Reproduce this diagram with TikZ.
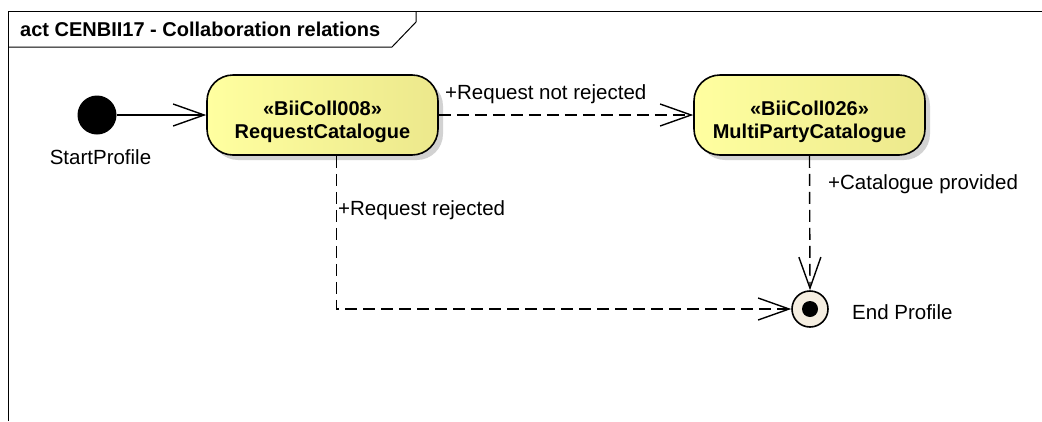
\documentclass[tikz,border=0pt]{standalone}
\usepackage{fontspec}
\setmainfont{Liberation Sans}
\usetikzlibrary{arrows.meta,shadows,calc}

\definecolor{boxL}{RGB}{255,255,160}
\definecolor{boxR}{RGB}{236,232,140}
\definecolor{endfill}{RGB}{245,238,225}

\begin{document}
\begin{tikzpicture}[x=1pt,y=-1pt,
  lbl/.style={inner sep=0pt, anchor=base west, font=\fontsize{20.5}{24}\selectfont},
  action/.style={draw=black, line width=1.6pt, rounded corners=26pt,
    minimum width=231pt, minimum height=80pt, left color=boxL, right color=boxR,
    drop shadow={shadow xshift=5pt, shadow yshift=-5pt, fill=black!35}, inner sep=0pt},
  boxtext/.style={align=center, font=\bfseries\fontsize{20}{23.5}\selectfont, inner sep=0pt},
  flow/.style={line width=1.4pt, -{Straight Barb[length=31pt,width=22pt,line width=1.4pt]}},
  dflow/.style={flow, dash pattern=on 12pt off 6pt},
  frameline/.style={line width=1pt},
]
\useasboundingbox (0,0) rectangle (1042,421);

% frame
\draw[frameline] (8,421) -- (8,11) -- (1042,11);
\draw[frameline] (8,47) -- (392,47) -- (416,22) -- (416,11);
\node[anchor=base west, inner sep=0pt, font=\bfseries\fontsize{20}{24}\selectfont] (hdr) at (20,36) {act CENBII17 - Collaboration relations};

% start
\node[circle, fill=black, minimum size=39pt, inner sep=0pt] (start) at (97,115) {};
\node[inner sep=0pt, anchor=base, font=\fontsize{20.5}{24}\selectfont] (startL) at (100.5,164) {StartProfile};

% actions
\node[action] (rc) at (322.5,115) {};
\node[boxtext] (rcT) at (322.5,122) {«BiiColl008»\\RequestCatalogue};
\node[action] (mp) at (809.5,115) {};
\node[boxtext] (mpT) at (809.5,122) {«BiiColl026»\\MultiPartyCatalogue};

% end
\node[circle, draw=black, line width=1.6pt, fill=endfill, minimum size=36pt, inner sep=0pt] (end) at (810,309) {};
\node[circle, fill=black, minimum size=16pt, inner sep=0pt] (endDot) at (end.center) {};
\node[lbl] (endL) at (852,319) {End Profile};

% flows
\draw[flow] (start.east) -- (rc.west);
\draw[dflow] (rc.east) -- (mp.west);
\draw[dflow] ([xshift=14pt]rc.south) |- (end.west);
\draw[dflow] (mp.south) -- (end.north);

% flow labels
\node[lbl] (l1) at (445,99) {+Request not rejected};
\node[lbl] (l2) at (338,215) {+Request rejected};
\node[lbl] (l3) at (828,189) {+Catalogue provided};
\end{tikzpicture}
\end{document}
